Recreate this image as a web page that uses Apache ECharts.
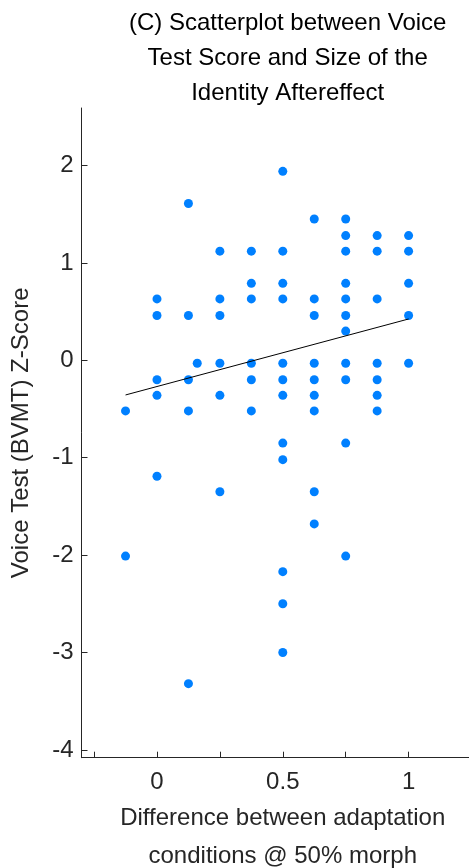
<!DOCTYPE html>
<html>
<head>
<meta charset="utf-8">
<script src="https://cdn.jsdelivr.net/npm/echarts@6/dist/echarts.min.js"></script>
<style>
  html, body { margin: 0; padding: 0; background: #ffffff; }
  #chart { width: 469px; height: 868px; }
</style>
</head>
<body>
<div id="chart"></div>
<script>
// Difference between adaptation conditions (x) — one array of z-scores per x column
const colMinus0125 = [-0.52, -2.01];
const col0 = [0.63, 0.46, -0.20, -0.36, -1.19];
const col0125 = [1.61, 0.46, -0.20, -0.52, -3.32];
const col016 = [-0.03];
const col025 = [1.12, 0.63, 0.46, -0.03, -0.36, -1.35];
const col0375 = [1.12, 0.79, 0.63, -0.03, -0.20, -0.52];
const col05 = [1.94, 1.12, 0.79, 0.63, -0.03, -0.20, -0.36, -0.85, -1.02, -2.17, -2.50, -3.00];
const col0625 = [1.45, 0.63, 0.46, -0.03, -0.20, -0.36, -0.52, -1.35, -1.68];
const col075 = [1.45, 1.28, 1.12, 0.79, 0.63, 0.46, 0.30, -0.03, -0.20, -0.85, -2.01];
const col0875 = [1.28, 1.12, 0.63, -0.03, -0.20, -0.36, -0.52];
const col1 = [1.28, 1.12, 0.79, 0.46, -0.03];

const xColumns = [-0.125, 0, 0.125, 0.16, 0.25, 0.375, 0.5, 0.625, 0.75, 0.875, 1];
const yColumns = [colMinus0125, col0, col0125, col016, col025, col0375, col05, col0625, col075, col0875, col1];

// least-squares fit line endpoints
const fitX = [-0.125, 1];
const fitY = [-0.356, 0.424];

const xTicks = [-0.25, 0, 0.25, 0.5, 0.75, 1];
const xTickLabels = [0, 0.5, 1];
const yTicks = [-4, -3, -2, -1, 0, 1, 2];

const titleText = '(C) Scatterplot between Voice\nTest Score and Size of the\nIdentity Aftereffect';
const xName = 'Difference between adaptation\nconditions @ 50% morph';
const yName = 'Voice Test (BVMT) Z-Score';

const points = [];
xColumns.forEach((x, i) => yColumns[i].forEach(y => points.push([x, y])));
const fitData = fitX.map((x, i) => [x, fitY[i]]);

const FONT = '"Liberation Sans", Arial, Helvetica, sans-serif';
const AX = '#262626';

const chart = echarts.init(document.getElementById('chart'), null, { renderer: 'canvas' });
chart.setOption({
  animation: false,
  backgroundColor: '#ffffff',
  title: {
    text: titleText,
    left: 282.7,
    top: 1,
    textAlign: 'center',
    textStyle: { fontFamily: FONT, fontSize: 24, fontWeight: 'normal', color: '#000', lineHeight: 35 }
  },
  grid: { left: 81.5, top: 108, right: 0, height: 649.7, containLabel: false, outerBoundsMode: 'none' },
  xAxis: {
    type: 'value',
    min: -0.3, max: 1.24,
    name: xName,
    nameLocation: 'middle',
    nameGap: 39,
    nameTextStyle: { fontFamily: FONT, fontSize: 24, color: AX, lineHeight: 38, padding: [0, 0, 0, 15] },
    axisLine: { show: true, onZero: false, lineStyle: { color: AX, width: 1 } },
    axisTick: { show: true, inside: true, length: 6, lineStyle: { color: AX, width: 1 }, customValues: xTicks },
    axisLabel: { fontFamily: FONT, fontSize: 24, color: AX, margin: 13, customValues: xTickLabels,
      formatter: v => String(v) },
    splitLine: { show: false }
  },
  yAxis: {
    type: 'value',
    min: -4.08, max: 2.59,
    name: yName,
    nameLocation: 'middle',
    nameGap: 48,
    nameRotate: 90,
    nameTextStyle: { fontFamily: FONT, fontSize: 24, color: AX },
    axisLine: { show: true, onZero: false, lineStyle: { color: AX, width: 1 } },
    axisTick: { show: true, inside: true, length: 6, lineStyle: { color: AX, width: 1 }, customValues: yTicks },
    axisLabel: { fontFamily: FONT, fontSize: 24, color: AX, margin: 8, customValues: yTicks,
      padding: [4, 0, 0, 0], formatter: v => String(v) },
    splitLine: { show: false }
  },
  series: [
    {
      type: 'scatter',
      data: points,
      symbol: 'circle',
      symbolSize: 9,
      itemStyle: { color: '#0080ff', opacity: 1 },
      silent: true,
      z: 2
    },
    {
      type: 'line',
      data: fitData,
      symbol: 'none',
      lineStyle: { color: '#000000', width: 1 },
      silent: true,
      z: 3
    }
  ]
});
</script>
</body>
</html>
